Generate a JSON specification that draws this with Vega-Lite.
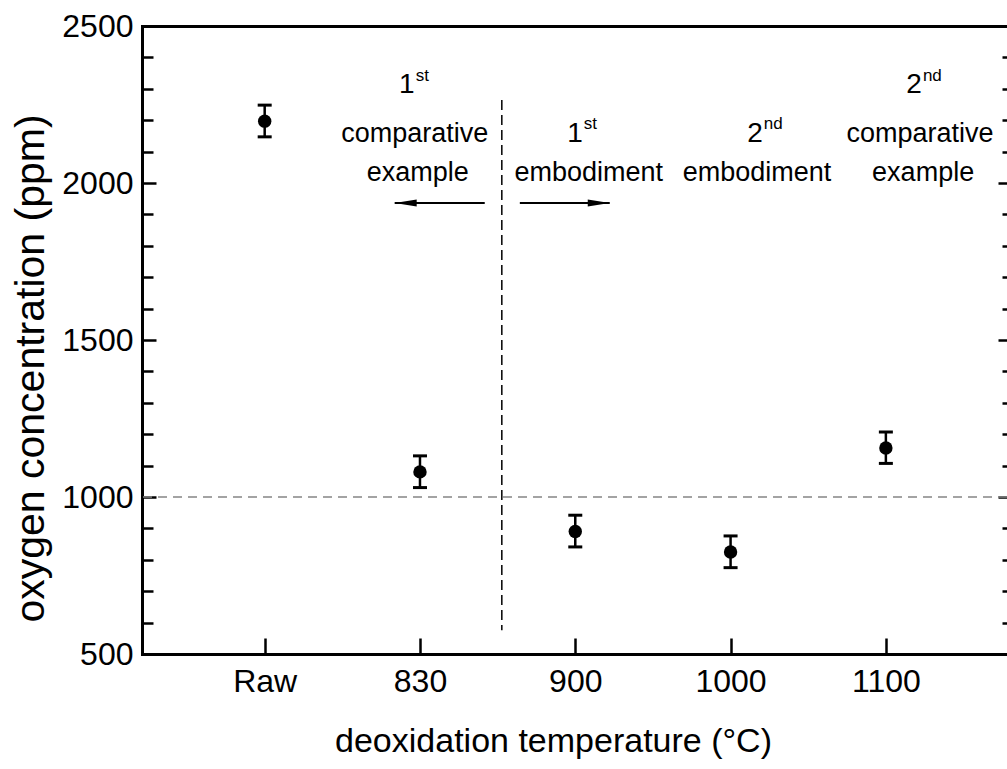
{
  "$schema": "https://vega.github.io/schema/vega-lite/v6.json",
  "width": 865,
  "height": 628,
  "autosize": {"type": "none"},
  "padding": {"left": 142, "top": 26, "right": 0, "bottom": 115},
  "background": "white",
  "config": {
    "view": {"stroke": null},
    "font": "Liberation Sans",
    "axis": {
      "labelFont": "Liberation Sans",
      "titleFont": "Liberation Sans",
      "labelColor": "black",
      "titleColor": "black",
      "domainColor": "black",
      "tickColor": "black",
      "titleFontWeight": "normal",
      "grid": false,
      "domainCap": "square"
    }
  },
  "datasets": {
    "points": [
      {"idx": 0, "label": "Raw", "ppm": 2197, "lo": 2147, "hi": 2248},
      {"idx": 1, "label": "830", "ppm": 1080, "lo": 1030, "hi": 1131},
      {"idx": 2, "label": "900", "ppm": 890, "lo": 841, "hi": 942},
      {"idx": 3, "label": "1000", "ppm": 825, "lo": 775, "hi": 876},
      {"idx": 4, "label": "1100", "ppm": 1156, "lo": 1107, "hi": 1207}
    ],
    "notes": [
      {"x": 0.966, "y": 2131, "text": "comparative", "kind": "word"},
      {"x": 0.986, "y": 2006, "text": "example", "kind": "word"},
      {"x": 2.087, "y": 2006, "text": "embodiment", "kind": "word"},
      {"x": 3.17, "y": 2006, "text": "embodiment", "kind": "word"},
      {"x": 4.22, "y": 2131, "text": "comparative", "kind": "word"},
      {"x": 4.24, "y": 2006, "text": "example", "kind": "word"},
      {"x": 0.966, "y": 2287, "text": "1", "kind": "num"},
      {"x": 2.048, "y": 2131, "text": "1", "kind": "num"},
      {"x": 3.208, "y": 2131, "text": "2", "kind": "num"},
      {"x": 4.232, "y": 2287, "text": "2", "kind": "num"},
      {"x": 0.966, "y": 2325, "text": "st", "kind": "sup"},
      {"x": 2.048, "y": 2172, "text": "st", "kind": "sup"},
      {"x": 3.208, "y": 2172, "text": "nd", "kind": "sup"},
      {"x": 4.232, "y": 2325, "text": "nd", "kind": "sup"}
    ],
    "arrows": [
      {"x": 0.837, "x2": 1.417, "y": 1936},
      {"x": 1.643, "x2": 2.222, "y": 1936}
    ],
    "heads": [
      {"x": 0.908, "y": 1936, "dir": "left"},
      {"x": 2.151, "y": 1936, "dir": "right"}
    ],
    "divider": [
      {"x": 1.527, "y": 2264, "y2": 576}
    ],
    "threshold": [
      {"y": 1000}
    ]
  },
  "resolve": {"axis": {"x": "independent", "y": "independent"}},
  "layer": [
    {
      "data": {"name": "threshold"},
      "mark": {"type": "rule", "color": "#858585", "strokeWidth": 1.5, "strokeDash": [9, 6]},
      "encoding": {
        "y": {"field": "y", "type": "quantitative",
          "scale": {"domain": [500, 2500], "nice": false, "zero": false},
          "axis": {"orient": "left", "values": [600, 700, 800, 900, 1100, 1200, 1300, 1400, 1600, 1700, 1800, 1900, 2100, 2200, 2300, 2400],
            "labels": false, "domain": false, "tickSize": -11, "tickWidth": 2.5, "title": null}}
      }
    },
    {
      "data": {"name": "divider"},
      "mark": {"type": "rule", "color": "black", "strokeWidth": 1.5, "strokeDash": [10, 5]},
      "encoding": {
        "x": {"field": "x", "type": "quantitative",
          "scale": {"domain": [-0.79, 4.78], "nice": false, "zero": false},
          "axis": {"orient": "top", "labels": false, "ticks": false, "domain": true, "domainWidth": 3, "title": null}},
        "y": {"field": "y", "type": "quantitative",
          "scale": {"domain": [500, 2500], "nice": false, "zero": false},
          "axis": {"orient": "right", "values": [500, 1000, 1500, 2000, 2500], "labels": false, "domain": false, "tickSize": -9, "tickWidth": 2.5, "title": null}},
        "y2": {"field": "y2"}
      }
    },
    {
      "data": {"name": "arrows"},
      "mark": {"type": "rule", "color": "black", "strokeWidth": 2},
      "encoding": {
        "x": {"field": "x", "type": "quantitative",
          "scale": {"domain": [-0.79, 4.78], "nice": false, "zero": false}, "axis": null},
        "x2": {"field": "x2"},
        "y": {"field": "y", "type": "quantitative",
          "scale": {"domain": [500, 2500], "nice": false, "zero": false},
          "axis": {"orient": "right", "values": [600, 700, 800, 900, 1100, 1200, 1300, 1400, 1600, 1700, 1800, 1900, 2100, 2200, 2300, 2400],
            "labels": false, "domain": false, "tickSize": -5, "tickWidth": 2.5, "title": null}}
      }
    },
    {
      "data": {"name": "heads"},
      "mark": {"type": "point", "filled": true, "color": "black", "opacity": 1, "size": 484},
      "encoding": {
        "x": {"field": "x", "type": "quantitative",
          "scale": {"domain": [-0.79, 4.78], "nice": false, "zero": false}, "axis": null},
        "y": {"field": "y", "type": "quantitative",
          "scale": {"domain": [500, 2500], "nice": false, "zero": false}, "axis": null},
        "shape": {"field": "dir", "type": "nominal", "legend": null,
          "scale": {"domain": ["left", "right"], "range": ["M -1 0 L 1 -0.32 L 1 0.32 Z", "M 1 0 L -1 -0.32 L -1 0.32 Z"]}}
      }
    },
    {
      "data": {"name": "points"},
      "mark": {"type": "errorbar", "color": "black", "opacity": 1,
        "ticks": {"size": 14, "thickness": 3, "color": "black", "opacity": 1},
        "rule": {"strokeWidth": 2.5, "color": "black", "opacity": 1}},
      "encoding": {
        "x": {"field": "idx", "type": "quantitative",
          "scale": {"domain": [-0.79, 4.78], "nice": false, "zero": false}, "axis": null},
        "y": {"field": "lo", "type": "quantitative",
          "scale": {"domain": [500, 2500], "nice": false, "zero": false}, "axis": null},
        "y2": {"field": "hi"}
      }
    },
    {
      "data": {"name": "points"},
      "mark": {"type": "point", "filled": true, "color": "black", "opacity": 1, "size": 180},
      "encoding": {
        "x": {"field": "idx", "type": "quantitative",
          "scale": {"domain": [-0.79, 4.78], "nice": false, "zero": false},
          "axis": {"orient": "bottom", "values": [0, 1, 2, 3, 4],
            "labelExpr": "['Raw','830','900','1000','1100'][datum.value]",
            "labelFontSize": 32, "labelPadding": 28, "tickSize": -16, "tickWidth": 2.5,
            "domainWidth": 3, "labelFlush": false,
            "title": "deoxidation temperature (°C)", "titleFontSize": 34,
            "titleX": 411, "titleY": 97, "titleBaseline": "alphabetic", "titleAlign": "center"}},
        "y": {"field": "ppm", "type": "quantitative",
          "scale": {"domain": [500, 2500], "nice": false, "zero": false},
          "axis": {"orient": "left", "values": [500, 1000, 1500, 2000, 2500], "format": "d",
            "labelFontSize": 32, "labelPadding": 23, "tickSize": -14, "tickWidth": 2.5,
            "domainWidth": 3, "labelFlush": false,
            "title": "oxygen concentration (ppm)", "titleFontSize": 41,
            "titleAngle": 270, "titleX": -99, "titleY": 342, "titleBaseline": "alphabetic", "titleAlign": "center"}}
      }
    },
    {
      "data": {"name": "notes"},
      "transform": [{"filter": "datum.kind === 'word'"}],
      "mark": {"type": "text", "align": "center", "baseline": "alphabetic", "fontSize": 27, "color": "black"},
      "encoding": {
        "x": {"field": "x", "type": "quantitative",
          "scale": {"domain": [-0.79, 4.78], "nice": false, "zero": false}, "axis": null},
        "y": {"field": "y", "type": "quantitative",
          "scale": {"domain": [500, 2500], "nice": false, "zero": false}, "axis": null},
        "text": {"field": "text"}
      }
    },
    {
      "data": {"name": "notes"},
      "transform": [{"filter": "datum.kind === 'num'"}],
      "mark": {"type": "text", "align": "right", "baseline": "alphabetic", "fontSize": 28, "color": "black"},
      "encoding": {
        "x": {"field": "x", "type": "quantitative",
          "scale": {"domain": [-0.79, 4.78], "nice": false, "zero": false}, "axis": null},
        "y": {"field": "y", "type": "quantitative",
          "scale": {"domain": [500, 2500], "nice": false, "zero": false}, "axis": null},
        "text": {"field": "text"}
      }
    },
    {
      "data": {"name": "notes"},
      "transform": [{"filter": "datum.kind === 'sup'"}],
      "mark": {"type": "text", "align": "left", "baseline": "alphabetic", "fontSize": 17, "dx": 1, "color": "black"},
      "encoding": {
        "x": {"field": "x", "type": "quantitative",
          "scale": {"domain": [-0.79, 4.78], "nice": false, "zero": false}, "axis": null},
        "y": {"field": "y", "type": "quantitative",
          "scale": {"domain": [500, 2500], "nice": false, "zero": false}, "axis": null},
        "text": {"field": "text"}
      }
    }
  ]
}
